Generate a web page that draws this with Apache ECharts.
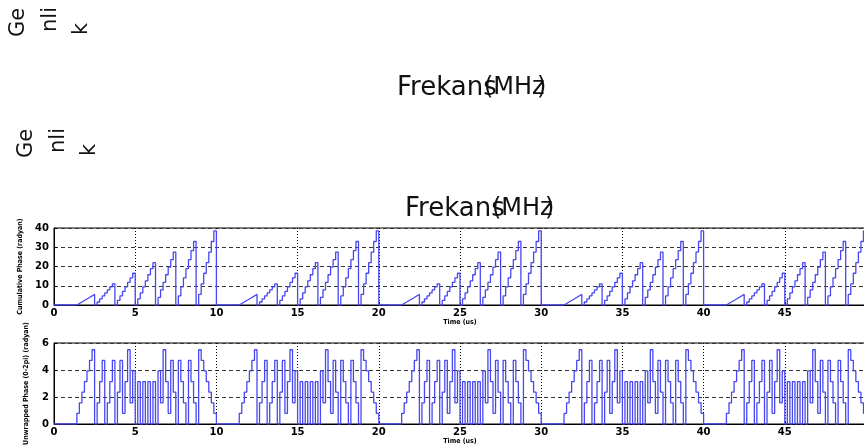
<!DOCTYPE html>
<html>
<head>
<meta charset="utf-8">
<script src="https://cdn.jsdelivr.net/npm/echarts@6/dist/echarts.min.js"></script>
<style>
  html, body { margin: 0; padding: 0; background: #fff; }
  #chart { width: 864px; height: 447px; }
</style>
</head>
<body>
<div id="chart"></div>
<script>
// 8x8 Frank code: phase of every chip within one pulse, row by row (radians)
const cumulativePhase = [
  0, 0, 0, 0, 0, 0, 0, 0,
  0, 0.79, 1.57, 2.36, 3.14, 3.93, 4.71, 5.50,
  0, 1.57, 3.14, 4.71, 6.28, 7.85, 9.42, 11.00,
  0, 2.36, 4.71, 7.07, 9.42, 11.78, 14.14, 16.49,
  0, 3.14, 6.28, 9.42, 12.57, 15.71, 18.85, 21.99,
  0, 3.93, 7.85, 11.78, 15.71, 19.63, 23.56, 27.49,
  0, 4.71, 9.42, 14.14, 18.85, 23.56, 28.27, 32.99,
  0, 5.50, 11.00, 16.49, 21.99, 27.49, 32.99, 38.48
];
// the same chips folded into 0..2pi
const wrappedPhase = [
  0, 0, 0, 0, 0, 0, 0, 0,
  0, 0.79, 1.57, 2.36, 3.14, 3.93, 4.71, 5.50,
  0, 1.57, 3.14, 4.71, 0, 1.57, 3.14, 4.71,
  0, 2.36, 4.71, 0.79, 3.14, 5.50, 1.57, 3.93,
  0, 3.14, 0, 3.14, 0, 3.14, 0, 3.14,
  0, 3.93, 1.57, 5.50, 3.14, 0.79, 4.71, 2.36,
  0, 4.71, 3.14, 1.57, 0, 4.71, 3.14, 1.57,
  0, 5.50, 4.71, 3.93, 3.14, 2.36, 1.57, 0.79
];
const pulseStarts = [0, 10, 20, 30, 40];   // us
const chipWidth = 0.15625;                 // us (10 us / 64 chips)
const timeMax = 50;                        // us

// axis titles and overlay captions
const cumulativeTitle = 'Cumulative Phase (radyan)';
const wrappedTitle = 'Unwrapped Phase (0-2pi) (radyan)';
const timeTitle = 'Time (us)';
const ampWords = ['Ge', 'nli', 'k'];
const freqParts = ['Frekans', '(MHz', ')'];

function pulseTrain(values) {
  const pts = [];
  pulseStarts.forEach(function (t0) {
    values.forEach(function (v, j) { pts.push([t0 + j * chipWidth, v]); });
  });
  pts.push([timeMax, values[values.length - 1]]);
  return pts;
}

const tickFont = { fontFamily: 'DejaVu Sans', fontWeight: 'bold', fontSize: 10, color: '#000' };
const nameFont = { fontFamily: 'DejaVu Sans Condensed, Liberation Sans Narrow, DejaVu Sans', fontWeight: 'bold', fontSize: 7, color: '#000' };

function xAxisFor(gridIndex) {
  return {
    type: 'value', gridIndex: gridIndex, min: 0, max: timeMax, interval: 5,
    name: timeTitle, nameLocation: 'middle', nameGap: 12, nameTextStyle: nameFont,
    axisLine: { lineStyle: { color: '#000', width: 1 } },
    axisTick: { show: true, inside: true, length: 3, lineStyle: { color: '#000' } },
    axisLabel: Object.assign({ margin: 3, showMaxLabel: false }, tickFont),
    splitLine: { show: true, lineStyle: { color: '#000', type: [1, 2], width: 1 } }
  };
}
function yAxisFor(gridIndex, max, interval, title, gap) {
  return {
    type: 'value', gridIndex: gridIndex, min: 0, max: max, interval: interval,
    name: title, nameLocation: 'middle', nameRotate: 90, nameGap: gap, nameTextStyle: nameFont,
    axisLine: { show: true, lineStyle: { color: '#000', width: 1 } },
    axisTick: { show: true, inside: true, length: 3, lineStyle: { color: '#000' } },
    axisLabel: Object.assign({ margin: 5 }, tickFont),
    splitLine: { show: true, lineStyle: { color: '#333', type: [4, 3], width: 1 } }
  };
}

// rotated "Genlik" fragments and the frequency caption, drawn twice
function captionGroup(dx, dy) {
  const els = [];
  const colX = [18.5, 50.5, 81.5];
  const startY = [37, 32, 35];
  ampWords.forEach(function (w, i) {
    els.push({
      type: 'group', x: colX[i] + dx, y: startY[i] + dy, rotation: Math.PI / 2,
      children: [{
        type: 'text', x: 0, y: 0,
        style: { text: w, fontFamily: 'DejaVu Sans', fontSize: 21, fill: '#111',
                 textAlign: 'left', textVerticalAlign: 'middle' }
      }]
    });
  });
  const partX = [397, 484, 537];
  const partSize = [26, 24, 24];
  freqParts.forEach(function (p, i) {
    els.push({
      type: 'text', x: partX[i] + dx, y: 88 + dy,
      style: { text: p, fontFamily: 'DejaVu Sans', fontSize: partSize[i], fill: '#111',
               textAlign: 'left', textVerticalAlign: 'middle' }
    });
  });
  return els;
}

const chart = echarts.init(document.getElementById('chart'), null, { renderer: 'canvas' });
chart.setOption({
  animation: false,
  backgroundColor: '#fff',
  grid: [
    { left: 54, top: 228, width: 812, height: 77, show: true, borderColor: '#000', borderWidth: 1,
      containLabel: false, outerBoundsMode: 'none' },
    { left: 54, top: 343, width: 812, height: 81, show: true, borderColor: '#000', borderWidth: 1,
      containLabel: false, outerBoundsMode: 'none' }
  ],
  xAxis: [xAxisFor(0), xAxisFor(1)],
  yAxis: [
    yAxisFor(0, 40, 10, cumulativeTitle, 30),
    yAxisFor(1, 6, 2, wrappedTitle, 24)
  ],
  series: [
    { type: 'line', xAxisIndex: 0, yAxisIndex: 0, step: 'end', showSymbol: false,
      data: pulseTrain(cumulativePhase), lineStyle: { color: '#4848f0', width: 1.3 } },
    { type: 'line', xAxisIndex: 1, yAxisIndex: 1, step: 'end', showSymbol: false,
      data: pulseTrain(wrappedPhase), lineStyle: { color: '#4848f0', width: 1.3 } }
  ],
  graphic: { elements: captionGroup(0, 0).concat(captionGroup(8, 121)) }
});
</script>
</body>
</html>
